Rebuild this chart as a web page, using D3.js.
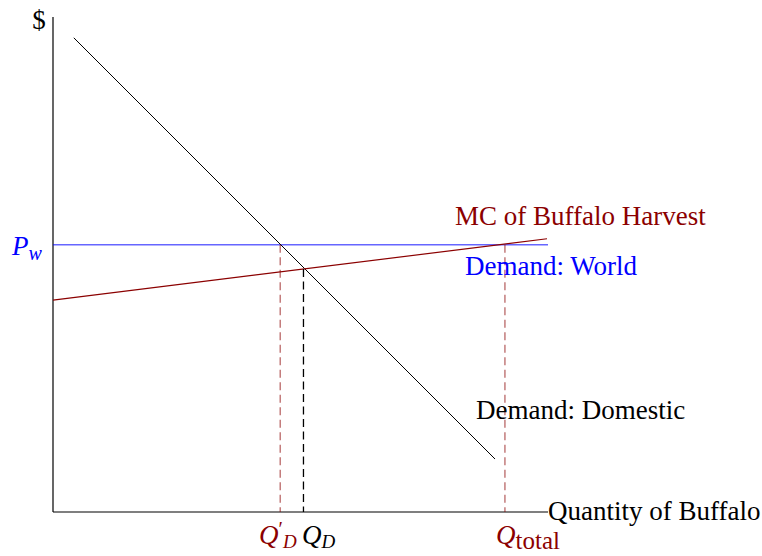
<!DOCTYPE html>
<html>
<head>
<meta charset="utf-8">
<script src="https://cdn.jsdelivr.net/npm/d3@7"></script>
<style>
  html, body { margin: 0; padding: 0; background: #fff; }
  svg text { font-family: "Liberation Serif", "DejaVu Serif", serif; }
</style>
</head>
<body>
<svg id="chart" width="762" height="556"></svg>
<script>
// ---- data (abstract units, axis 0..10) ----
const domesticDemand = [[0.42, 9.58], [8.93, 1.07]];   // Demand: Domestic
const mcHarvest      = [[0, 4.28], [9.98, 5.52]];      // MC of Buffalo Harvest
const worldPrice     = 5.4;                            // P_w (Demand: World)
const qDprime        = 4.59;                           // Q'_D
const qD             = [5.06, 4.91];                   // Q_D (x, y of intersection)
const qTotal         = 9.13;                           // Q_total
const axisLabels     = { x: "Quantity of Buffalo", y: "$" };
const curveLabels    = ["MC of Buffalo Harvest", "Demand: World", "Demand: Domestic"];

const svg = d3.select("#chart");
const x = d3.scaleLinear().domain([0, 10]).range([53, 548]);
const y = d3.scaleLinear().domain([0, 10]).range([512, 17]);

const red = "#8b0000", blue = "#0000ff";
const line = d3.line().x(d => x(d[0])).y(d => y(d[1]));

// axes (plain lines, no ticks)
svg.append("line").attr("x1", x(0)).attr("x2", x(0)).attr("y1", y(0)).attr("y2", y(10))
  .attr("stroke", "#000").attr("stroke-width", 1.2);
svg.append("line").attr("x1", x(0)).attr("x2", x(10)).attr("y1", y(0)).attr("y2", y(0))
  .attr("stroke", "#000").attr("stroke-width", 1.2);

// world price line
svg.append("path").datum([[0, worldPrice], [10, worldPrice]]).attr("d", line)
  .attr("stroke", blue).attr("stroke-opacity", 0.6).attr("stroke-width", 1.6).attr("fill", "none");

// domestic demand
svg.append("path").datum(domesticDemand).attr("d", line)
  .attr("stroke", "#000").attr("stroke-width", 1).attr("fill", "none");

// MC
svg.append("path").datum(mcHarvest).attr("d", line)
  .attr("stroke", red).attr("stroke-width", 1.2).attr("fill", "none");

// dashed drop lines
const drops = [
  { q: qDprime, p: worldPrice, c: red, o: 0.6 },
  { q: qD[0], p: qD[1], c: "#000", o: 1 },
  { q: qTotal, p: worldPrice, c: red, o: 0.6 }
];
svg.selectAll("line.drop").data(drops).enter().append("line").attr("class", "drop")
  .attr("x1", d => x(d.q)).attr("x2", d => x(d.q))
  .attr("y1", d => y(d.p)).attr("y2", d => y(0))
  .attr("stroke", d => d.c).attr("stroke-opacity", d => d.o)
  .attr("stroke-width", 1.3).attr("stroke-dasharray", "8,4.5");

const fs = 27;
// axis labels
svg.append("text").attr("x", 548).attr("y", 520).attr("font-size", fs).attr("fill", "#000")
  .text(axisLabels.x);
svg.append("text").attr("x", 39).attr("y", 29).attr("font-size", fs).attr("text-anchor", "middle")
  .attr("fill", "#000").text(axisLabels.y);

// curve labels
svg.append("text").attr("x", 455).attr("y", 225).attr("font-size", fs).attr("fill", red).text(curveLabels[0]);
svg.append("text").attr("x", 465).attr("y", 275).attr("font-size", fs).attr("fill", blue).text(curveLabels[1]);
svg.append("text").attr("x", 476).attr("y", 419).attr("font-size", fs).attr("fill", "#000").text(curveLabels[2]);

// P_w
const pw = svg.append("text").attr("x", 12).attr("y", 255).attr("font-size", fs).attr("fill", blue);
pw.append("tspan").attr("font-style", "italic").text("P");
pw.append("tspan").attr("font-style", "italic").attr("font-size", 20).attr("dy", 5).text("w");

// Q'_D
const qdp = svg.append("text").attr("x", 259).attr("y", 544).attr("font-size", fs).attr("fill", red);
qdp.append("tspan").attr("font-style", "italic").text("Q");
qdp.append("tspan").attr("font-size", 20).attr("dy", -8).text("′");
qdp.append("tspan").attr("font-style", "italic").attr("font-size", 19).attr("dy", 12).text("D");

// Q_D
const qdl = svg.append("text").attr("x", 302).attr("y", 544).attr("font-size", fs).attr("fill", "#000");
qdl.append("tspan").attr("font-style", "italic").text("Q");
qdl.append("tspan").attr("font-style", "italic").attr("font-size", 19).attr("dy", 4).text("D");

// Q_total
const qt = svg.append("text").attr("x", 496).attr("y", 544).attr("font-size", fs).attr("fill", red);
qt.append("tspan").attr("font-style", "italic").text("Q");
qt.append("tspan").attr("font-size", 25).attr("dy", 5).text("total");
</script>
</body>
</html>
